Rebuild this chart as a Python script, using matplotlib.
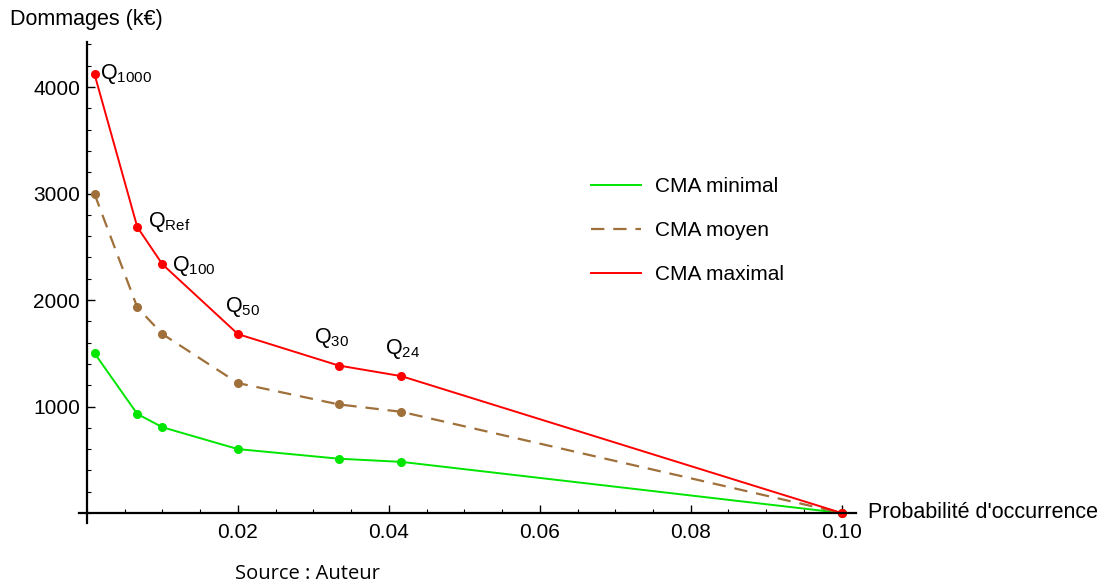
import matplotlib.pyplot as plt
from matplotlib.ticker import MultipleLocator, FixedLocator

plt.rcParams['font.family'] = ['Liberation Sans', 'DejaVu Sans']
plt.rcParams['mathtext.fontset'] = 'custom'
plt.rcParams['mathtext.rm'] = 'Liberation Sans'
plt.rcParams['mathtext.it'] = 'Liberation Sans'

# probabilites d'occurrence (Q1000, QRef, Q100, Q50, Q30, Q24, Q10)
proba = [0.001, 1 / 150, 0.01, 0.02, 1 / 30, 1 / 24, 0.10]
cma_min = [1500, 930, 805, 600, 510, 480, 0]
cma_moy = [2995, 1930, 1680, 1220, 1020, 950, 0]
cma_max = [4120, 2685, 2335, 1680, 1385, 1285, 0]
labels = ["1000", "Ref", "100", "50", "30", "24"]
x_ticks = [0.02, 0.04, 0.06, 0.08, 0.10]
x_tick_labels = ["0.02", "0.04", "0.06", "0.08", "0.10"]
y_ticks = [1000, 2000, 3000, 4000]

fig = plt.figure(figsize=(11.05, 5.88), dpi=100)
ax = fig.add_axes([79 / 1105, 65 / 588, (856 - 79) / 1105, (546 - 65) / 588])

green = "#00e600"
brown = "#a0703a"
red = "#ff0000"

ax.plot(proba, cma_min, color=green, lw=1.4, marker="o", ms=5.5, label="CMA minimal")
ax.plot(proba, cma_moy, color=brown, lw=1.6, ls=(0, (6, 4)), marker="o", ms=5.5,
        label="CMA moyen")
ax.plot(proba, cma_max, color=red, lw=1.4, marker="o", ms=5.5, label="CMA maximal")

# etiquettes des periodes de retour
offsets = [(4, 0), (8, 4), (7, -1), (-9, 11), (-18, 11), (-12, 11)]
vas = ["center", "center", "center", "bottom", "bottom", "bottom"]
for xv, yv, lab, off, va in zip(proba, cma_max, labels, offsets, vas):
    ax.annotate(r"$\mathrm{Q}_{\mathrm{" + lab + "}}$", (xv, yv), xytext=off,
                textcoords="offset points", fontsize=15.5, va=va, ha="left")

ax.set_xlim(-0.00106, 0.1019)
ax.set_ylim(-94, 4423)

for s in ["top", "right"]:
    ax.spines[s].set_visible(False)
ax.spines["left"].set_position(("data", 0))
ax.spines["bottom"].set_position(("data", 0))
ax.spines["left"].set_linewidth(1.6)
ax.spines["bottom"].set_linewidth(1.6)

ax.xaxis.set_major_locator(FixedLocator(x_ticks))
ax.set_xticklabels(x_tick_labels)
ax.xaxis.set_minor_locator(MultipleLocator(0.005))
ax.yaxis.set_major_locator(FixedLocator(y_ticks))
ax.yaxis.set_minor_locator(MultipleLocator(200))
ax.tick_params(axis="both", which="major", direction="in", length=6, width=1,
               labelsize=15)
ax.tick_params(axis="both", which="minor", direction="in", length=3, width=0.8)
ax.tick_params(axis="x", pad=7)
ax.tick_params(axis="y", pad=5)

ax.text(0.1035, 0, "Probabilité d'occurrence", fontsize=15.5, va="center", ha="left",
        clip_on=False)
fig.text(10 / 1105, 1 - 20 / 588, "Dommages (k€)", fontsize=15.5, va="center",
         ha="left")
fig.text(235 / 1105, 1 - 574 / 588, "Source : Auteur", fontsize=14.5, va="center",
         ha="left", family=["Open Sans", "DejaVu Sans"])

leg = ax.legend(loc="upper left", bbox_to_anchor=(0.648, 0.737), frameon=False,
                fontsize=15, handlelength=2.4, handletextpad=0.7, labelspacing=1.2,
                borderaxespad=0)
for h in leg.legend_handles:
    h.set_marker("")

fig.savefig("out.png", dpi=100)
